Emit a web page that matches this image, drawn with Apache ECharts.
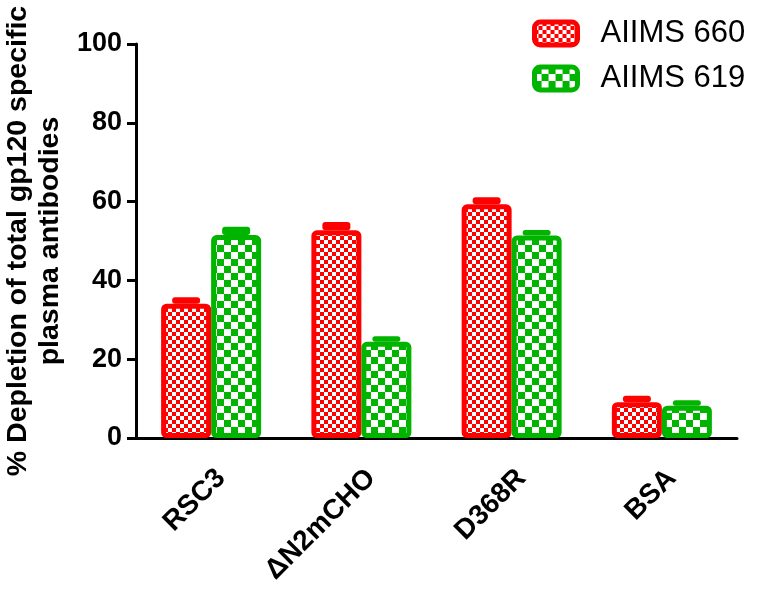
<!DOCTYPE html>
<html>
<head>
<meta charset="utf-8">
<script src="https://cdn.jsdelivr.net/npm/echarts@6/dist/echarts.min.js"></script>
<style>
  html, body { margin: 0; padding: 0; background: #fff; }
  #chart { width: 757px; height: 590px; }
</style>
</head>
<body>
<div id="chart"></div>
<script>
const categories = ["RSC3", "\u0394N2mCHO", "D368R", "BSA"];
const aiims660 = [34.1, 52.7, 59.3, 9.1];
const aiims660Err = [1.6, 2.1, 1.8, 1.6];
const aiims619 = [51.5, 24.4, 51.4, 8.2];
const aiims619Err = [2.1, 1.4, 1.4, 1.4];
const yTicks = { min: 0, max: 100, interval: 20 };

const RED = "#ff0000";
const GREEN = "#00b400";
const FONT = "'Liberation Sans', Arial, sans-serif";
const BAR_W = 50;

// checkerboard fill like the prism hatch
function checker(size, color) {
  const c = document.createElement("canvas");
  c.width = c.height = size * 2;
  const ctx = c.getContext("2d");
  ctx.fillStyle = "#fff";
  ctx.fillRect(0, 0, size * 2, size * 2);
  ctx.fillStyle = color;
  ctx.fillRect(0, 0, size, size);
  ctx.fillRect(size, size, size, size);
  return c;
}

function errSeries(vals, errs, color, side) {
  return {
    type: "custom",
    z: 1,
    silent: true,
    data: vals.map((v, i) => [i, v, errs[i]]),
    renderItem(params, api) {
      const lo = api.coord([api.value(0), api.value(1)]);
      const hi = api.coord([api.value(0), api.value(1) + api.value(2)]);
      const cx = lo[0] + side * BAR_W / 2;
      const w = 28;
      return {
        type: "rect",
        shape: { x: cx - w / 2, y: hi[1], width: w, height: lo[1] - hi[1], r: 3 },
        style: { fill: color }
      };
    }
  };
}

const chart = echarts.init(document.getElementById("chart"));
const option = {
  animation: false,
  grid: { left: 136, right: 20, top: 44, bottom: 152, containLabel: false, outerBoundsMode: "none" },
  legend: {
    left: 532,
    top: 18,
    orient: "vertical",
    padding: 0,
    itemWidth: 43,
    itemHeight: 23,
    itemGap: 14,
    icon: "roundRect",
    itemStyle: { borderWidth: 5 },
    textStyle: {
      fontFamily: FONT,
      fontSize: 31,
      color: "#000",
      lineHeight: 23,
      padding: [0, 0, 0, 18]
    },
    data: ["AIIMS 660", "AIIMS 619"]
  },
  xAxis: {
    type: "category",
    data: categories,
    axisLine: { lineStyle: { color: "#000", width: 3 } },
    axisTick: { alignWithLabel: true, length: 8, lineStyle: { color: "#000", width: 3 } },
    axisLabel: {
      interval: 0,
      rotate: 45,
      margin: 26,
      verticalAlign: "top",
      color: "#000",
      fontFamily: FONT,
      fontWeight: "bold",
      fontSize: 28
    }
  },
  yAxis: {
    type: "value",
    min: yTicks.min,
    max: yTicks.max,
    interval: yTicks.interval,
    name: "% Depletion of total gp120 specific\nplasma antibodies",
    nameLocation: "middle",
    nameGap: 65,
    nameTextStyle: {
      fontFamily: FONT,
      fontWeight: "bold",
      fontSize: 28.5,
      lineHeight: 32,
      color: "#000"
    },
    splitLine: { show: false },
    axisLine: { show: true, lineStyle: { color: "#000", width: 3 } },
    axisTick: { show: true, length: 9, lineStyle: { color: "#000", width: 3 } },
    axisLabel: {
      margin: 14,
      color: "#000",
      fontFamily: FONT,
      fontWeight: "bold",
      fontSize: 27
    }
  },
  series: [
    {
      name: "AIIMS 660",
      type: "bar",
      z: 2,
      barWidth: BAR_W,
      barGap: "0%",
      data: aiims660,
      itemStyle: {
        color: { image: checker(4, RED), repeat: "repeat" },
        borderColor: RED,
        borderWidth: 5,
        borderRadius: 3
      }
    },
    {
      name: "AIIMS 619",
      type: "bar",
      z: 2,
      barWidth: BAR_W,
      barGap: "0%",
      data: aiims619,
      itemStyle: {
        color: { image: checker(7, GREEN), repeat: "repeat" },
        borderColor: GREEN,
        borderWidth: 5,
        borderRadius: 3
      }
    },
    errSeries(aiims660, aiims660Err, RED, -1),
    errSeries(aiims619, aiims619Err, GREEN, 1)
  ]
};
chart.setOption(option);
window.addEventListener("resize", () => chart.resize(), false);
</script>
</body>
</html>
